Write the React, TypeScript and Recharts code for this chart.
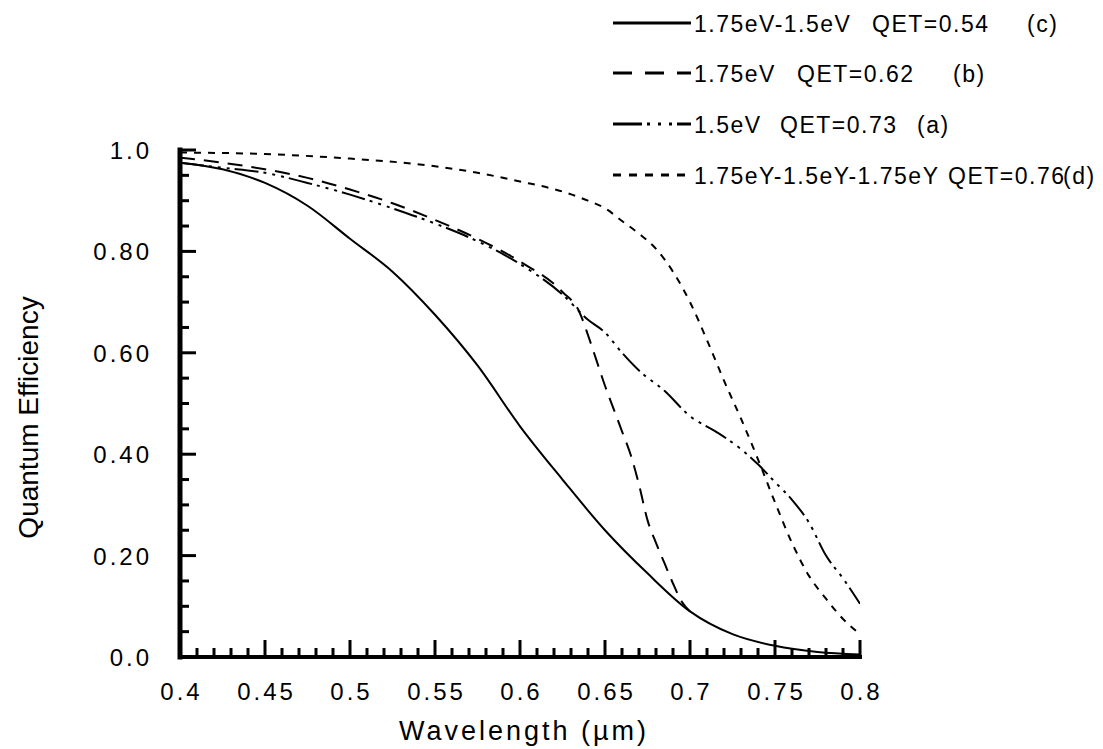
import React from 'react';
import { LineChart, Line, XAxis, YAxis, Legend, Label } from 'recharts';

// wavelength (um) / quantum efficiency
const waveC = [0.4, 0.425, 0.45, 0.475, 0.5, 0.525, 0.55, 0.575, 0.6, 0.625, 0.65, 0.675, 0.7, 0.725, 0.75, 0.775, 0.8];
const qeC = [0.975, 0.962, 0.935, 0.89, 0.825, 0.76, 0.675, 0.575, 0.455, 0.35, 0.25, 0.165, 0.09, 0.045, 0.022, 0.01, 0.005];

const waveB = [0.4, 0.425, 0.45, 0.475, 0.5, 0.525, 0.55, 0.575, 0.6, 0.625, 0.635, 0.64, 0.645, 0.65, 0.655, 0.66, 0.665, 0.67, 0.675, 0.68, 0.685, 0.69, 0.695, 0.7];
const qeB = [0.985, 0.975, 0.962, 0.945, 0.922, 0.895, 0.862, 0.825, 0.78, 0.72, 0.68, 0.635, 0.585, 0.535, 0.49, 0.445, 0.4, 0.34, 0.27, 0.225, 0.185, 0.145, 0.11, 0.09];

const waveA = [0.4, 0.425, 0.45, 0.475, 0.5, 0.525, 0.55, 0.575, 0.6, 0.625, 0.64, 0.65, 0.66, 0.67, 0.685, 0.7, 0.715, 0.73, 0.74, 0.75, 0.76, 0.77, 0.78, 0.79, 0.8];
const qeA = [0.975, 0.965, 0.955, 0.935, 0.912, 0.885, 0.855, 0.82, 0.775, 0.715, 0.665, 0.64, 0.6, 0.565, 0.525, 0.475, 0.445, 0.41, 0.38, 0.345, 0.31, 0.265, 0.2, 0.155, 0.105];

const waveD = [0.4, 0.45, 0.5, 0.55, 0.575, 0.6, 0.625, 0.64, 0.65, 0.66, 0.67, 0.68, 0.69, 0.7, 0.71, 0.72, 0.73, 0.74, 0.75, 0.76, 0.77, 0.78, 0.79, 0.8];
const qeD = [0.995, 0.992, 0.983, 0.968, 0.955, 0.938, 0.918, 0.9, 0.885, 0.86, 0.835, 0.805, 0.76, 0.7, 0.625, 0.545, 0.47, 0.39, 0.305, 0.225, 0.16, 0.115, 0.075, 0.045];

const xMajorTicks = [0.4, 0.45, 0.5, 0.55, 0.6, 0.65, 0.7, 0.75, 0.8];
const xTickLabels = ['0.4', '0.45', '0.5', '0.55', '0.6', '0.65', '0.7', '0.75', '0.8'];
const yMajorTicks = [0, 0.2, 0.4, 0.6, 0.8, 1.0];
const yTickLabels = ['0.0', '0.20', '0.40', '0.60', '0.80', '1.0'];

const legendNames = ['1.75eV-1.5eV', '1.75eV', '1.5eV', '1.75eY-1.5eY-1.75eY'];
const legendQet = ['QET=0.54', 'QET=0.62', 'QET=0.73', 'QET=0.76'];
const legendTags = ['(c)', '(b)', '(a)', '(d)'];

const FONT = '"Liberation Sans", Arial, Helvetica, sans-serif';

// minor ticks every 0.01 on x, every 0.05 on y
const xAllTicks = Array.from({ length: 41 }, (_, i) => +(0.4 + i * 0.01).toFixed(2));
const yAllTicks = Array.from({ length: 21 }, (_, i) => +(i * 0.05).toFixed(2));

const toRows = (xs: number[], ys: number[]) => xs.map((x, i) => ({ x, qe: ys[i] }));
const dataC = toRows(waveC, qeC);
const dataB = toRows(waveB, qeB);
const dataA = toRows(waveA, qeA);
const dataD = toRows(waveD, qeD);

const dashes = [undefined, '19 13', '29 5 3 8 3 8 3 5', '8 8'];
const plotDashes = [undefined, '15 9', '24 5 3 6 3 6 3 5', '7 7'];

const findMajor = (list: number[], v: number) => list.findIndex((t) => Math.abs(t - v) < 1e-6);

const XTick = (props: any) => {
  const { x, y, payload } = props;
  const idx = findMajor(xMajorTicks, payload.value);
  const major = idx >= 0;
  return (
    <g>
      <line x1={x} y1={y} x2={x} y2={y - (major ? 17 : 9)} stroke="#000" strokeWidth={3} />
      {major && (
        <text x={x + 1.5} y={y + 43} textAnchor="middle" fontFamily={FONT} fontSize={24} letterSpacing={3} fill="#000">
          {xTickLabels[idx]}
        </text>
      )}
    </g>
  );
};

const YTick = (props: any) => {
  const { x, y, payload } = props;
  const idx = findMajor(yMajorTicks, payload.value);
  const major = idx >= 0;
  return (
    <g>
      <line x1={x} y1={y} x2={x + (major ? 16 : 9)} y2={y} stroke="#000" strokeWidth={3} />
      {major && (
        <text x={x - 28} y={y + 9} textAnchor="end" fontFamily={FONT} fontSize={24} letterSpacing={3} fill="#000">
          {yTickLabels[idx]}
        </text>
      )}
    </g>
  );
};

// legend rows sit above the plot at the top right
const legendRowY = [23, 73, 124, 175];
const legendQetX = [872, 797, 780, 948];
const legendTagX = [1027, 953, 917, 1063];

const renderLegend = () => (
  <svg width={1103} height={200} style={{ display: 'block' }}>
    {legendNames.map((name, i) => (
      <g key={name}>
        <line x1={613} y1={legendRowY[i]} x2={691} y2={legendRowY[i]} stroke="#000" strokeWidth={3} strokeDasharray={dashes[i]} />
        <text x={694} y={legendRowY[i] + 9} fontFamily={FONT} fontSize={23} letterSpacing={1.5} fill="#000">{name}</text>
        <text x={legendQetX[i]} y={legendRowY[i] + 9} fontFamily={FONT} fontSize={23} letterSpacing={1.5} fill="#000">{legendQet[i]}</text>
        <text x={legendTagX[i]} y={legendRowY[i] + 9} fontFamily={FONT} fontSize={23} letterSpacing={1.5} fill="#000">{legendTags[i]}</text>
      </g>
    ))}
  </svg>
);

export default function App() {
  return (
    <div style={{ position: 'absolute', left: 0, top: 0, width: 1103, height: 749, background: '#fff' }}>
      <LineChart width={1103} height={749} margin={{ top: 150, right: 243, bottom: 32, left: 10 }}>
        <XAxis
          dataKey="x"
          type="number"
          domain={[0.4, 0.8]}
          ticks={xAllTicks}
          interval={0}
          tickSize={0}
          tickMargin={0}
          tickLine={false}
          tick={(p: any) => <XTick {...p} />}
          axisLine={{ stroke: '#000', strokeWidth: 4, strokeLinecap: 'square' }}
          height={60}
          allowDataOverflow
        >
          <Label
            value="Wavelength (µm)"
            position="bottom"
            offset={4}
            dx={4}
            style={{ fontFamily: FONT, fontSize: 27, letterSpacing: 3, fill: '#000' }}
          />
        </XAxis>
        <YAxis
          type="number"
          domain={[0, 1]}
          ticks={yAllTicks}
          interval={0}
          tickSize={0}
          tickMargin={0}
          tickLine={false}
          tick={(p: any) => <YTick {...p} />}
          axisLine={{ stroke: '#000', strokeWidth: 5, strokeLinecap: 'square' }}
          width={170}
          allowDataOverflow
        >
          <Label
            content={(p: any) => {
              const vb = p.viewBox;
              const cx = vb.x + 18;
              const cy = vb.y + vb.height / 2 + 14;
              return (
                <text x={cx} y={cy} transform={`rotate(-90 ${cx} ${cy})`} textAnchor="middle" dominantBaseline="central" fontFamily={FONT} fontSize={28} fill="#000">
                  Quantum Efficiency
                </text>
              );
            }}
          />
        </YAxis>
        <Legend
          layout="vertical"
          align="center"
          verticalAlign="middle"
          content={renderLegend}
          wrapperStyle={{ left: 0, top: 0, width: 1103, height: 200 }}
        />
        <Line data={dataC} dataKey="qe" name="c" type="monotone" stroke="#000" strokeWidth={2} dot={false} isAnimationActive={false} />
        <Line data={dataB} dataKey="qe" name="b" type="monotone" stroke="#000" strokeWidth={2} strokeDasharray={plotDashes[1]} dot={false} isAnimationActive={false} />
        <Line data={dataA} dataKey="qe" name="a" type="monotone" stroke="#000" strokeWidth={2} strokeDasharray={plotDashes[2]} dot={false} isAnimationActive={false} />
        <Line data={dataD} dataKey="qe" name="d" type="monotone" stroke="#000" strokeWidth={2} strokeDasharray={plotDashes[3]} dot={false} isAnimationActive={false} />
      </LineChart>
    </div>
  );
}
